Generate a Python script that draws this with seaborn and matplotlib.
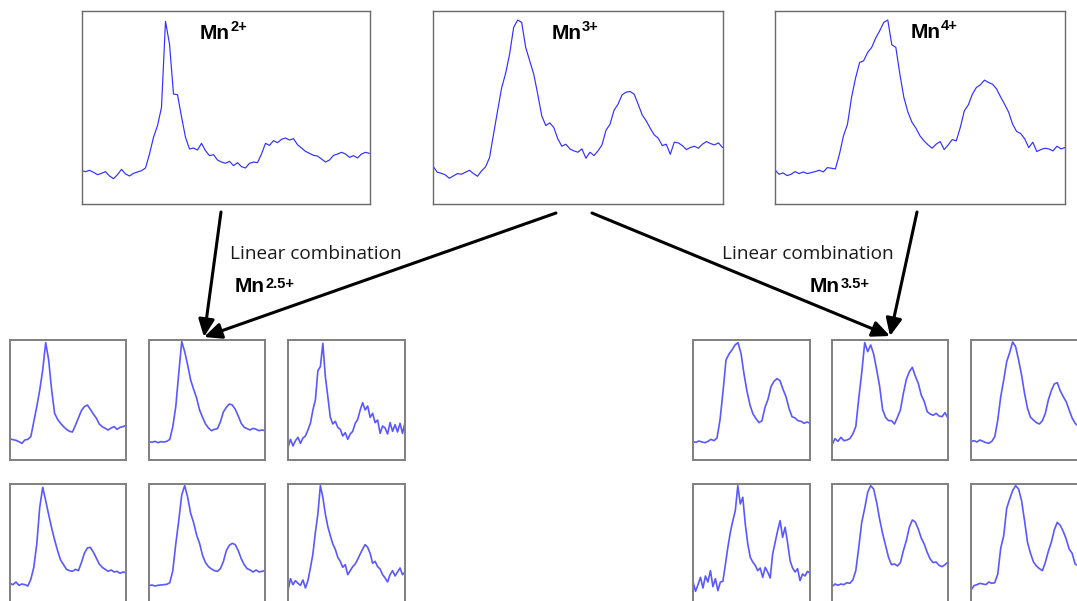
import numpy as np
import pandas as pd
import matplotlib
matplotlib.use("Agg")
import matplotlib.pyplot as plt
import seaborn as sns
from matplotlib.patches import FancyArrowPatch

# ---------------- data (intensities, arbitrary units) ----------------
mn2 = [100, 97, 101, 95, 88, 92, 97, 84, 76, 88, 104, 90, 84, 92, 96, 100, 108, 150, 200, 235,
       290, 548, 480, 330, 328, 262, 200, 165, 168, 162, 182, 160, 145, 148, 132, 126, 122, 128, 115, 124,
       112, 108, 122, 126, 124, 150, 182, 176, 190, 184, 194, 198, 192, 196, 178, 168, 158, 152, 146, 144,
       135, 126, 132, 146, 150, 155, 150, 140, 145, 138, 150, 155, 152]
mn3 = [113, 96, 93, 88, 78, 85, 92, 90, 96, 102, 92, 84, 100, 112, 140, 210, 280, 348, 392, 450,
       530, 552, 545, 470, 430, 390, 330, 265, 236, 244, 230, 196, 174, 180, 166, 160, 156, 166, 138, 156,
       146, 160, 178, 222, 240, 282, 300, 328, 336, 338, 330, 300, 268, 250, 228, 208, 198, 176, 180, 150,
       186, 184, 176, 164, 170, 174, 168, 180, 188, 182, 178, 184, 170]
mn4 = [103, 90, 94, 86, 90, 98, 92, 97, 92, 95, 98, 102, 97, 110, 108, 106, 150, 205, 240, 320,
       378, 425, 430, 455, 470, 498, 520, 545, 552, 478, 470, 390, 320, 276, 246, 228, 205, 190, 178, 168,
       180, 188, 164, 178, 194, 190, 230, 280, 298, 330, 350, 358, 372, 365, 360, 346, 322, 300, 276, 240,
       218, 212, 196, 170, 186, 158, 164, 168, 166, 160, 174, 166, 170]

mix25_a = [63, 61, 59, 55, 50, 60, 62, 70, 115, 160, 210, 270, 352, 300, 210, 140, 122, 110, 100, 92,
           86, 84, 104, 126, 148, 160, 165, 152, 138, 126, 108, 100, 95, 90, 96, 100, 92, 98, 100, 104]
mix25_b = [55, 53, 56, 52, 55, 54, 56, 62, 100, 160, 260, 355, 325, 285, 240, 212, 186, 150, 128, 108,
           96, 88, 92, 94, 114, 144, 158, 168, 165, 152, 132, 110, 98, 94, 90, 95, 92, 88, 90, 88]
mix25_c = [38, 62, 42, 58, 68, 50, 66, 72, 90, 110, 150, 180, 268, 280, 350, 250, 190, 128, 108, 116,
           98, 92, 72, 82, 62, 78, 86, 110, 122, 150, 172, 150, 162, 128, 140, 112, 120, 80, 102, 96,
           78, 112, 86, 106, 84, 110, 80, 112]
mix25_d = [62, 58, 66, 56, 60, 58, 54, 74, 110, 180, 290, 350, 310, 268, 228, 192, 160, 132, 118, 104,
           100, 98, 104, 100, 124, 152, 168, 170, 156, 138, 120, 110, 104, 98, 102, 96, 98, 92, 96, 94]
mix25_e = [55, 57, 54, 56, 57, 58, 59, 64, 100, 180, 250, 327, 355, 320, 272, 244, 207, 182, 146, 124,
           112, 105, 100, 98, 106, 127, 160, 176, 182, 178, 160, 136, 118, 106, 102, 96, 102, 96, 98, 100]
mix25_f = [40, 76, 58, 70, 62, 56, 72, 48, 70, 108, 150, 215, 270, 355, 320, 270, 232, 205, 180, 164,
           140, 128, 110, 118, 88, 100, 112, 120, 134, 150, 165, 178, 170, 152, 122, 128, 112, 105, 88, 78,
           66, 88, 100, 84, 96, 108, 88, 96]

mix35_a = [55, 53, 57, 54, 52, 56, 62, 58, 66, 120, 205, 300, 318, 330, 345, 352, 320, 258, 206, 165,
           138, 124, 112, 118, 158, 182, 220, 236, 244, 238, 212, 190, 155, 130, 126, 118, 116, 110, 114, 110]
mix35_b = [45, 64, 56, 68, 58, 60, 64, 78, 100, 185, 262, 352, 325, 345, 318, 272, 222, 152, 128, 118,
           118, 108, 128, 150, 200, 242, 265, 278, 252, 230, 195, 176, 145, 138, 134, 140, 132, 130, 142, 125]
mix35_c = [55, 58, 54, 60, 56, 52, 50, 56, 70, 120, 190, 240, 295, 322, 354, 340, 300, 255, 200, 155,
           128, 120, 112, 108, 118, 140, 180, 208, 228, 232, 208, 190, 175, 150, 126, 110, 102, 98, 100, 96]
mix35_d = [67, 38, 58, 80, 48, 84, 66, 100, 52, 76, 40, 66, 68, 118, 170, 215, 250, 280, 355, 300,
           320, 240, 180, 140, 126, 116, 100, 108, 80, 110, 96, 78, 150, 185, 220, 250, 200, 230, 184, 130,
           108, 96, 106, 70, 90, 84, 98, 92]
mix35_e = [52, 60, 56, 60, 58, 64, 62, 72, 100, 170, 245, 287, 335, 355, 345, 305, 255, 212, 176, 140,
           118, 120, 114, 124, 160, 190, 230, 252, 246, 225, 198, 180, 155, 135, 124, 126, 116, 112, 118, 126]
mix35_f = [42, 55, 58, 62, 60, 58, 66, 62, 64, 90, 168, 205, 287, 315, 340, 355, 345, 310, 250, 185,
           152, 126, 114, 106, 100, 125, 158, 185, 222, 245, 236, 218, 195, 165, 152, 120, 115, 108, 104, 100]

ref_labels = ["2+", "3+", "4+"]
mix_labels = ["2.5+", "3.5+"]
note_text = "Linear combination"

# ---------------- style ----------------
sns.set_style("white")
plt.rcParams["font.family"] = ["Liberation Sans", "DejaVu Sans"]

W, H = 1077, 601
fig = plt.figure(figsize=(W / 100, H / 100), dpi=100)
fig.patch.set_facecolor("white")


def rect(x0, y0, x1, y1):
    return [x0 / W, 1 - y1 / H, (x1 - x0) / W, (y1 - y0) / H]


def panel(r, values, top, color, lw, alpha, frame_col, frame_lw):
    ax = fig.add_axes(rect(*r))
    df = pd.DataFrame({"ch": np.arange(len(values)), "I": values})
    sns.lineplot(data=df, x="ch", y="I", ax=ax, color=color, lw=lw, alpha=alpha, sort=False)
    ax.set_xlim(0, len(values) - 1)
    ax.set_ylim(0, top)
    ax.set_xticks([])
    ax.set_yticks([])
    ax.set_xlabel("")
    ax.set_ylabel("")
    ax.set_facecolor("white")
    for s in ax.spines.values():
        s.set_visible(True)
        s.set_color(frame_col)
        s.set_linewidth(frame_lw)
    return ax


# large reference spectra
big = [(mn2, (81.5, 10.7, 369.5, 204.0)),
       (mn3, (433.3, 10.7, 722.5, 204.3)),
       (mn4, (775.0, 10.7, 1065.0, 204.3))]
for vals, r in big:
    panel(r, vals, 580, "#3030ff", 0.85, 1.0, "#6a6a6a", 1.0)

# small linear-combination spectra
cols_left = [(10, 126), (149, 265), (288, 405)]
cols_right = [(693, 810), (832, 948), (971, 1087)]
rows = [(340.3, 460.0), (484.3, 604.0)]
left_sets = [[mix25_a, mix25_b, mix25_c], [mix25_d, mix25_e, mix25_f]]
right_sets = [[mix35_a, mix35_b, mix35_c], [mix35_d, mix35_e, mix35_f]]
for ri, (y0, y1) in enumerate(rows):
    for ci, (x0, x1) in enumerate(cols_left):
        panel((x0, y0, x1, y1), left_sets[ri][ci], 359, "#2f2fff", 1.2, 0.8, "#808080", 1.4)
    for ci, (x0, x1) in enumerate(cols_right):
        panel((x0, y0, x1, y1), right_sets[ri][ci], 359, "#2f2fff", 1.2, 0.8, "#808080", 1.4)

# labels: "Mn" + superscript charge
fig.canvas.draw()
rend = fig.canvas.get_renderer()


def ion_label(px, py, sup, raise_px):
    t = fig.text(px / W, 1 - py / H, "Mn", fontsize=15, fontweight="bold",
                 ha="left", va="baseline", color="black")
    bb = t.get_window_extent(renderer=rend)
    fig.text((bb.x1 + 0.5) / W, 1 - (py - raise_px) / H, sup, fontsize=10.5, fontweight="bold",
             ha="left", va="baseline", color="black")


for lab, (px, py) in zip(ref_labels, [(200, 39), (551.5, 39), (910.5, 38.5)]):
    ion_label(px, py, lab, 8)
for lab, (px, py) in zip(mix_labels, [(235, 292), (810, 292)]):
    ion_label(px, py, lab, 4.5)

notes = []
for px in (230, 722):
    notes.append(fig.text(px / W, 1 - 259 / H, note_text, fontsize=13.5, family=["Open Sans", "DejaVu Sans"],
                          ha="left", va="baseline", color="#1a1a1a"))
wpx = notes[0].get_window_extent(renderer=rend).width
for t in notes:
    t.set_fontsize(13.5 * 172 / wpx)

# arrows
arrows = [((221, 212), (204, 337)), ((556, 213), (204, 337)),
          ((592, 213), (890, 336)), ((917, 212), (890, 336))]
for (ax0, ay0), (ax1, ay1) in arrows:
    a = FancyArrowPatch((ax0 / W, 1 - ay0 / H), (ax1 / W, 1 - ay1 / H), transform=fig.transFigure,
                        arrowstyle="-|>,head_length=0.7,head_width=0.32", mutation_scale=15,
                        lw=2.2, color="black", shrinkA=0, shrinkB=0)
    fig.add_artist(a)

fig.savefig("out.png", dpi=100, facecolor="white")
